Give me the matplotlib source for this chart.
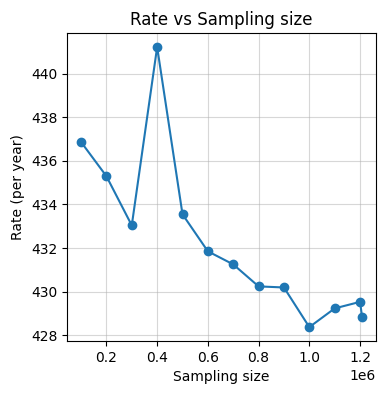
import matplotlib
matplotlib.use("Agg")
import matplotlib.pyplot as plt

# sampling sizes and the rate estimated at each
sampling_size = [100000, 200000, 300000, 400000, 500000, 600000, 700000,
                 800000, 900000, 1000000, 1100000, 1200000, 1208000]
rate = [436.87, 435.30, 433.04, 441.23, 433.55, 431.85, 431.25,
        430.24, 430.19, 428.37, 429.23, 429.53, 428.83]

fig = plt.figure(figsize=(3.85, 3.93), dpi=100)
plt.subplots_adjust(left=0.174, right=0.977, top=0.916, bottom=0.132)
plt.plot(sampling_size, rate, marker='o')
plt.title('Rate vs Sampling size')
plt.xlabel('Sampling size')
plt.ylabel('Rate (per year)')
plt.grid(alpha=0.5)
plt.savefig('out.png')
